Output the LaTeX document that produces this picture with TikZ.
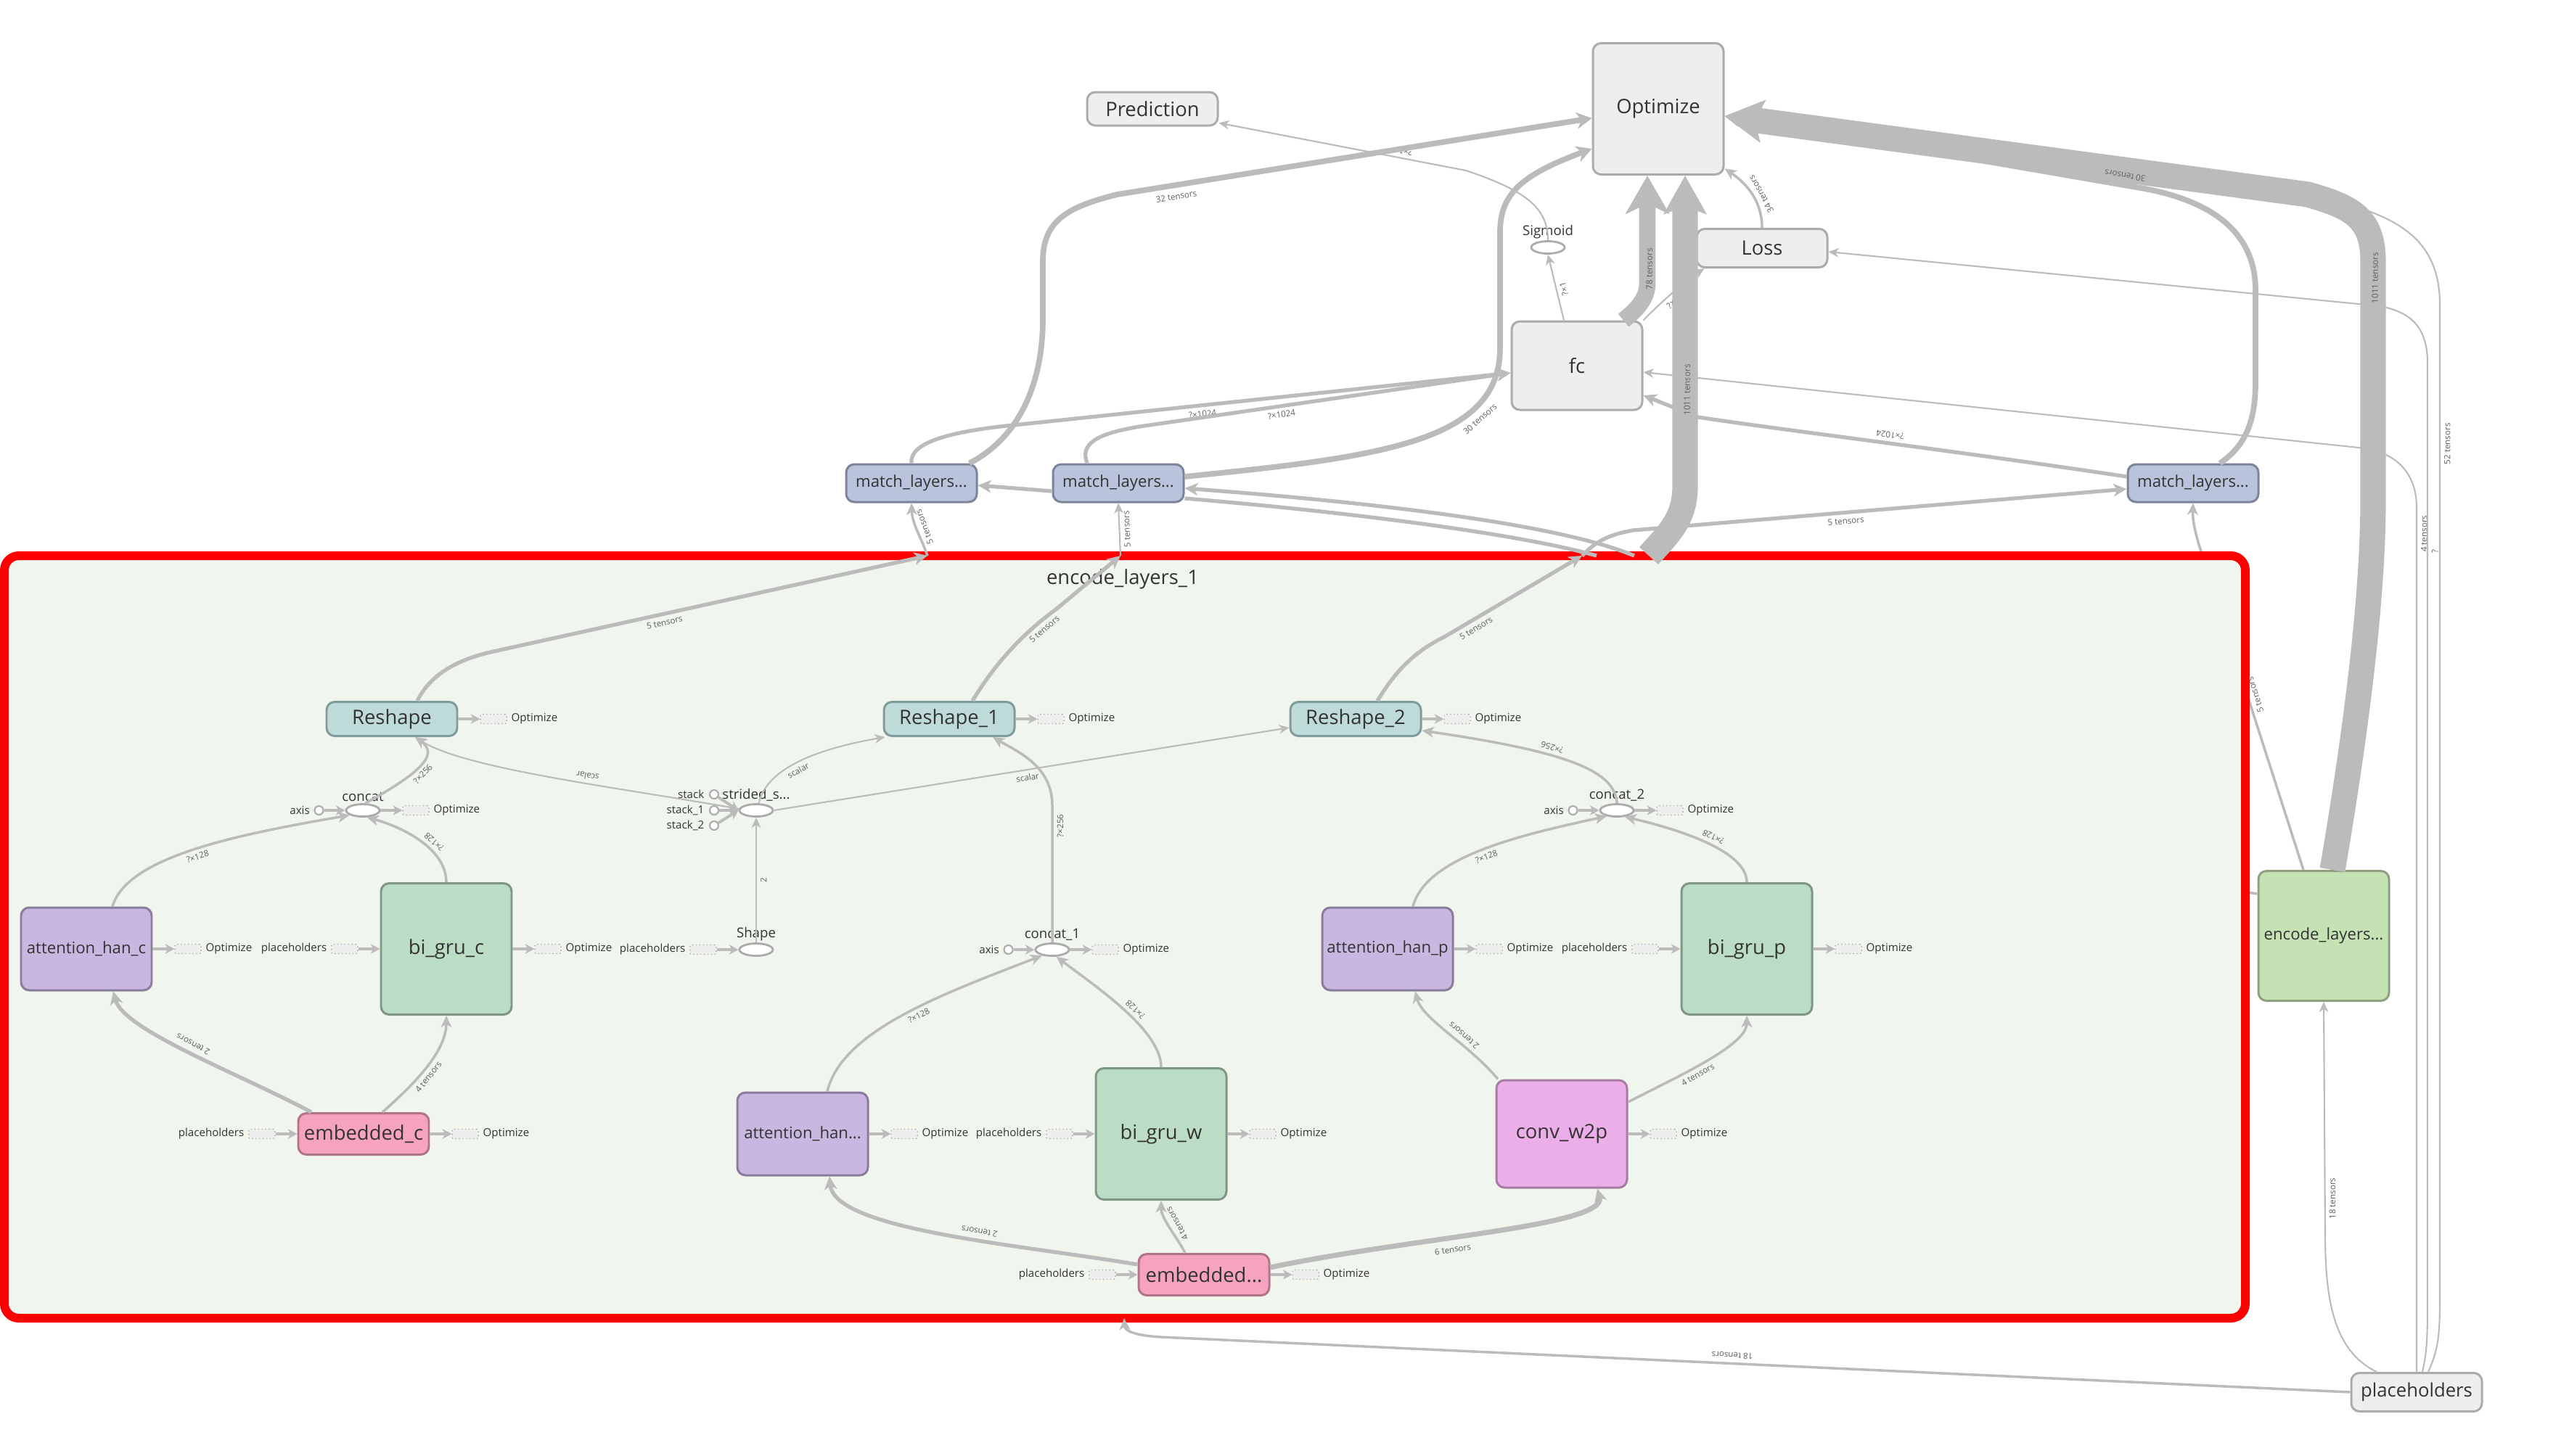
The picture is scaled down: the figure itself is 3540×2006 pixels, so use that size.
\documentclass[tikz,border=0pt]{standalone}
\usepackage{fontspec}
\setmainfont{Open Sans}
\usetikzlibrary{arrows.meta,positioning,shapes.geometric}

\definecolor{edgegrey}{HTML}{BBBBBB}
\definecolor{txtgrey}{HTML}{333333}
\definecolor{lblgrey}{HTML}{5E5E5E}
\definecolor{nodefill}{HTML}{EEEEEE}
\definecolor{nodeline}{HTML}{ABABAB}
\definecolor{groupfill}{HTML}{F0F5EE}
\definecolor{groupline}{HTML}{FF0000}
\definecolor{reshfill}{HTML}{BEDBDA}
\definecolor{reshline}{HTML}{7F9B9A}
\definecolor{matchfill}{HTML}{B9C3DC}
\definecolor{matchline}{HTML}{7D849A}
\definecolor{attnfill}{HTML}{C8B8E1}
\definecolor{attnline}{HTML}{8B7C9E}
\definecolor{grufill}{HTML}{BBDDC6}
\definecolor{gruline}{HTML}{7E9786}
\definecolor{embfill}{HTML}{F5A3BE}
\definecolor{embline}{HTML}{B07488}
\definecolor{convfill}{HTML}{EBAEE9}
\definecolor{convline}{HTML}{A67BA4}
\definecolor{encfill}{HTML}{C5E2B5}
\definecolor{encline}{HTML}{8EA07F}

\begin{document}
\begin{tikzpicture}[
    x=0.1mm, y=-0.1mm,
    every node/.style={text=txtgrey},
    box/.style={rectangle, rounded corners=3.2pt, line width=0.85pt, inner sep=0pt,
                minimum width=18mm, font=\fontsize{7.8}{9}\selectfont},
    plain/.style={box, draw=nodeline, fill=nodefill},
    matchbox/.style={box, draw=matchline, fill=matchfill, minimum height=5.2mm,
                     font=\fontsize{6.3}{7}\selectfont},
    reshbox/.style={box, draw=reshline, fill=reshfill, minimum height=4.7mm},
    attnbox/.style={box, draw=attnline, fill=attnfill, minimum height=11.4mm,
                    font=\fontsize{6.3}{7}\selectfont},
    grubox/.style={box, draw=gruline, fill=grufill, minimum height=18.1mm},
    embbox/.style={box, draw=embline, fill=embfill, minimum height=5.7mm},
    convbox/.style={box, draw=convline, fill=convfill, minimum height=14.8mm},
    encbox/.style={box, draw=encline, fill=encfill, minimum height=17.9mm,
                   font=\fontsize{6.3}{7}\selectfont},
    groupbox/.style={rectangle, rounded corners=2mm, draw=groupline, fill=groupfill,
                     line width=1.2mm, minimum width=308.8mm, minimum height=105.1mm},
    grouplbl/.style={font=\fontsize{7.8}{9}\selectfont},
    op/.style={ellipse, draw=nodeline, fill=white, line width=0.8pt,
               minimum width=4.6mm, minimum height=1.7mm, inner sep=0pt},
    oplbl/.style={font=\fontsize{5.3}{6}\selectfont, inner sep=0.5pt},
    port/.style={circle, draw=nodeline, fill=white, line width=0.6pt,
                 minimum size=1.2mm, inner sep=0pt},
    ghost/.style={rectangle, rounded corners=0.6pt, draw=nodeline, densely dotted,
                  fill=nodefill, line width=0.4pt, minimum width=3.6mm,
                  minimum height=1.3mm, inner sep=0pt},
    smalllbl/.style={font=\fontsize{4.3}{5}\selectfont, inner sep=0.3pt},
    elbl/.style={font=\fontsize{3.3}{4}\selectfont, text=lblgrey, inner sep=0.6pt,
                 sloped, allow upside down, below=0.8pt},
    thinedge/.style={draw=edgegrey, line width=0.6pt, line join=round,
                     -{Stealth[length=4pt, width=3.6pt, inset=1.2pt]}},
    normedge/.style={draw=edgegrey, line width=1pt, line join=round,
                     -{Stealth[length=4.6pt, width=4.2pt, inset=1.3pt]}},
    mededge/.style={draw=edgegrey, line width=1.5pt, line join=round,
                    -{Stealth[length=5.2pt, width=5pt, inset=1.5pt]}},
    thickedge/.style={draw=edgegrey, line width=2.2pt, line join=round,
                      -{Stealth[length=6pt, width=6.5pt, inset=1.8pt]}},
    bigedge/.style={draw=edgegrey, line width=6.5pt, line join=round,
                    -{Stealth[length=15pt, width=17pt, inset=4pt]}},
    hugeedge/.style={draw=edgegrey, line width=10pt, line join=round,
                     -{Stealth[length=15pt, width=16.5pt, inset=3pt]}},
    ctrledge/.style={draw=edgegrey, line width=1.1pt,
                     -{Stealth[length=3.6pt, width=3.8pt, inset=1pt]}},
]
\useasboundingbox (0,0) rectangle (3540,2006);

% top level nodes
\node[plain, minimum height=18.1mm] (opt) at (2285,150) {Optimize};
\node[plain, minimum height=4.6mm] (pred) at (1588,150) {Prediction};
\node[op] (sigm) at (2133,341) {};
\node[oplbl, above=0pt of sigm] (sigml) {Sigmoid};
\node[plain, minimum height=5.3mm] (loss) at (2428,342) {Loss};
\node[plain, minimum height=12.2mm] (fc) at (2173,504) {fc};
\node[matchbox] (ml1) at (1256,666) {match\_layers...};
\node[matchbox] (ml2) at (1541,666) {match\_layers...};
\node[matchbox] (ml3) at (3022,666) {match\_layers...};
\node[encbox] (enc2) at (3202,1290) {encode\_layers...};
\node[plain, minimum height=5.3mm, font=\fontsize{7.3}{8}\selectfont] (ph) at (3330,1919) {placeholders};

% edges running behind the group box
\coordinate (b7) at (3035,766);
\coordinate (stub) at (3070,1226);
\draw[normedge] ([xshift=-2.8mm]enc2.north) -- node[elbl, pos=0.55] {5 tensors} (b7)
    .. controls (3026,740) and (3021,718) .. (ml3.south);
\draw[normedge, -] ([yshift=5.8mm]enc2.west) -- (stub);

% group encode_layers_1
\node[groupbox] (grp) at (1550,1291.5) {};
\node[grouplbl] (grpl) at (1547,798) {encode\_layers\_1};

\node[reshbox] (rs) at (540,991) {Reshape};
\node[reshbox] (rs1) at (1308,991) {Reshape\_1};
\node[reshbox] (rs2) at (1868,991) {Reshape\_2};
\node[op] (cc) at (500,1117) {};
\node[oplbl, above=0pt of cc] (ccl) {concat};
\node[op] (cc1) at (1450,1309) {};
\node[oplbl, above=0pt of cc1] (cc1l) {concat\_1};
\node[op] (cc2) at (2228,1117) {};
\node[oplbl, above=0pt of cc2] (cc2l) {concat\_2};
\node[op] (ss) at (1042,1117) {};
\node[oplbl, above=0pt of ss] (ssl) {strided\_s...};
\node[op] (shp) at (1042,1309) {};
\node[oplbl, above=0pt of shp] (shpl) {Shape};
\node[attnbox] (ahc) at (119,1308) {attention\_han\_c};
\node[grubox] (bgc) at (615,1308) {bi\_gru\_c};
\node[embbox] (emc) at (501,1563) {embedded\_c};
\node[attnbox] (ahw) at (1106,1563) {attention\_han...};
\node[grubox] (bgw) at (1600,1563) {bi\_gru\_w};
\node[embbox] (emw) at (1659,1757) {embedded...};
\node[convbox] (cw) at (2152,1563) {conv\_w2p};
\node[attnbox] (ahp) at (1912,1308) {attention\_han\_p};
\node[grubox] (bgp) at (2407,1308) {bi\_gru\_p};

% ports
\node[port, left=2.9mm of cc] (ccax) {};
\node[smalllbl, left=0.4mm of ccax] (ccaxl) {axis};
\node[port, left=2.9mm of cc1] (cc1ax) {};
\node[smalllbl, left=0.4mm of cc1ax] (cc1axl) {axis};
\node[port, left=2.9mm of cc2] (cc2ax) {};
\node[smalllbl, left=0.4mm of cc2ax] (cc2axl) {axis};
\node[port] (st0) at (984,1095) {};
\node[smalllbl, left=0.5mm of st0] (st0l) {stack};
\node[port] (st1) at (984,1117) {};
\node[smalllbl, left=0.5mm of st1] (st1l) {stack\_1};
\node[port] (st2) at (984,1138) {};
\node[smalllbl, left=0.5mm of st2] (st2l) {stack\_2};
\draw[ctrledge] (ccax) -- (cc);
\draw[ctrledge] (cc1ax) -- (cc1);
\draw[ctrledge] (cc2ax) -- (cc2);
\draw[ctrledge] (st0) -- (ss.west);
\draw[ctrledge] (st1) -- (ss.west);
\draw[ctrledge] (st2) -- (ss.west);

% Optimize outputs
\node[ghost, right=3mm of rs] (rsg) {};
\node[smalllbl, right=0.4mm of rsg] (rsgl) {Optimize};
\node[ghost, right=3mm of rs1] (rs1g) {};
\node[smalllbl, right=0.4mm of rs1g] (rs1gl) {Optimize};
\node[ghost, right=3mm of rs2] (rs2g) {};
\node[smalllbl, right=0.4mm of rs2g] (rs2gl) {Optimize};
\node[ghost, right=3mm of cc] (ccg) {};
\node[smalllbl, right=0.4mm of ccg] (ccgl) {Optimize};
\node[ghost, right=3mm of cc1] (cc1g) {};
\node[smalllbl, right=0.4mm of cc1g] (cc1gl) {Optimize};
\node[ghost, right=3mm of cc2] (cc2g) {};
\node[smalllbl, right=0.4mm of cc2g] (cc2gl) {Optimize};
\node[ghost, right=3mm of ahc] (ahcg) {};
\node[smalllbl, right=0.4mm of ahcg] (ahcgl) {Optimize};
\node[ghost, right=3mm of bgc] (bgcg) {};
\node[smalllbl, right=0.4mm of bgcg] (bgcgl) {Optimize};
\node[ghost, right=3mm of emc] (emcg) {};
\node[smalllbl, right=0.4mm of emcg] (emcgl) {Optimize};
\node[ghost, right=3mm of ahw] (ahwg) {};
\node[smalllbl, right=0.4mm of ahwg] (ahwgl) {Optimize};
\node[ghost, right=3mm of bgw] (bgwg) {};
\node[smalllbl, right=0.4mm of bgwg] (bgwgl) {Optimize};
\node[ghost, right=3mm of emw] (emwg) {};
\node[smalllbl, right=0.4mm of emwg] (emwgl) {Optimize};
\node[ghost, right=3mm of cw] (cwg) {};
\node[smalllbl, right=0.4mm of cwg] (cwgl) {Optimize};
\node[ghost, right=3mm of ahp] (ahpg) {};
\node[smalllbl, right=0.4mm of ahpg] (ahpgl) {Optimize};
\node[ghost, right=3mm of bgp] (bgpg) {};
\node[smalllbl, right=0.4mm of bgpg] (bgpgl) {Optimize};
\draw[ctrledge] (rs) -- (rsg);
\draw[ctrledge] (rs1) -- (rs1g);
\draw[ctrledge] (rs2) -- (rs2g);
\draw[ctrledge] (cc) -- (ccg);
\draw[ctrledge] (cc1) -- (cc1g);
\draw[ctrledge] (cc2) -- (cc2g);
\draw[ctrledge] (ahc) -- (ahcg);
\draw[ctrledge] (bgc) -- (bgcg);
\draw[ctrledge] (emc) -- (emcg);
\draw[ctrledge] (ahw) -- (ahwg);
\draw[ctrledge] (bgw) -- (bgwg);
\draw[ctrledge] (emw) -- (emwg);
\draw[ctrledge] (cw) -- (cwg);
\draw[ctrledge] (ahp) -- (ahpg);
\draw[ctrledge] (bgp) -- (bgpg);

% placeholders inputs
\node[ghost, left=3mm of bgc] (bgcp) {};
\node[smalllbl, left=0.4mm of bgcp] (bgcpl) {placeholders};
\node[ghost, left=3mm of shp] (shpp) {};
\node[smalllbl, left=0.4mm of shpp] (shppl) {placeholders};
\node[ghost, left=3mm of emc] (emcp) {};
\node[smalllbl, left=0.4mm of emcp] (emcpl) {placeholders};
\node[ghost, left=3mm of bgw] (bgwp) {};
\node[smalllbl, left=0.4mm of bgwp] (bgwpl) {placeholders};
\node[ghost, left=3mm of emw] (emwp) {};
\node[smalllbl, left=0.4mm of emwp] (emwpl) {placeholders};
\node[ghost, left=3mm of bgp] (bgpp) {};
\node[smalllbl, left=0.4mm of bgpp] (bgppl) {placeholders};
\draw[ctrledge] (bgcp) -- (bgc);
\draw[ctrledge] (shpp) -- (shp);
\draw[ctrledge] (emcp) -- (emc);
\draw[ctrledge] (bgwp) -- (bgw);
\draw[ctrledge] (emwp) -- (emw);
\draw[ctrledge] (bgpp) -- (bgp);

% edges inside the group
\draw[normedge] (cc.70) .. controls (580,1065) and (605,1040) .. node[elbl, pos=0.45] {?×256} ([xshift=3.2mm]rs.south);
\draw[thinedge] (ss.175) .. controls (850,1085) and (640,1060) .. node[elbl, pos=0.4] {scalar} ([xshift=3.2mm]rs.south);
\draw[thinedge] (ss.70) .. controls (1055,1065) and (1110,1035) .. node[elbl, pos=0.5] {scalar} ([xshift=0.3mm]rs1.south west);
\draw[thinedge] (ss.east) -- node[elbl, pos=0.49] {scalar} ([yshift=-1.2mm]rs2.west);
\draw[normedge] (cc1.north) -- node[elbl, pos=0.85] {?×256} (1450,1110) .. controls (1450,1055) and (1400,1035) .. ([xshift=6mm]rs1.south);
\draw[normedge] (cc2.north) .. controls (2226,1060) and (2150,1035) .. node[elbl, pos=0.6] {?×256} ([yshift=-1.6mm]rs2.east);
\draw[thinedge] (shp) -- node[elbl, pos=0.5] {2} (ss);
\draw[normedge] ([xshift=3.6mm]ahc.north) .. controls (175,1180) and (330,1150) .. node[elbl, pos=0.5] {?×128} (cc.200);
\draw[normedge] (bgc.north) .. controls (615,1170) and (555,1140) .. node[elbl, pos=0.4] {?×128} (cc.-60);
\draw[mededge] ([xshift=-7.2mm]emc.north) .. controls (330,1480) and (170,1420) .. node[elbl, pos=0.5] {2 tensors} ([xshift=3.7mm]ahc.south);
\draw[normedge] ([xshift=2.6mm]emc.north) .. controls (570,1495) and (615,1450) .. node[elbl, pos=0.45] {4 tensors} (bgc.south);
\draw[normedge] ([xshift=3.4mm]ahw.north) .. controls (1160,1420) and (1300,1370) .. node[elbl, pos=0.55] {?×128} (cc1.210);
\draw[normedge] (bgw.north) .. controls (1600,1420) and (1510,1360) .. node[elbl, pos=0.45] {?×128} (cc1.-60);
\draw[mededge] ([yshift=1.4mm]emw.west) .. controls (1400,1715) and (1150,1695) .. node[elbl, pos=0.4] {2 tensors} ([xshift=3.7mm]ahw.south);
\draw[normedge] ([xshift=-2.6mm]emw.north) .. controls (1622,1705) and (1600,1680) .. node[elbl, pos=0.5] {4 tensors} (bgw.south);
\draw[mededge, line width=2pt] ([yshift=1mm]emw.east) .. controls (1950,1705) and (2215,1690) .. node[elbl, pos=0.4, below=2pt] {6 tensors} ([xshift=4.9mm]cw.south);
\draw[normedge] ([xshift=-8.8mm]cw.north) .. controls (2025,1440) and (1960,1405) .. node[elbl, pos=0.4] {2 tensors} ([xshift=3.8mm]ahp.south);
\draw[normedge] ([yshift=4.4mm]cw.east) .. controls (2320,1480) and (2407,1440) .. node[elbl, pos=0.4] {4 tensors} (bgp.south);
\draw[normedge] ([xshift=3.5mm]ahp.north) .. controls (1965,1180) and (2100,1150) .. node[elbl, pos=0.5] {?×128} (cc2.210);
\draw[normedge] (bgp.north) .. controls (2407,1170) and (2300,1140) .. node[elbl, pos=0.45] {?×128} (cc2.-40);

% crossing the group border
\coordinate (b1) at (1278,766);
\coordinate (b2) at (1544,766);
\coordinate (b3) at (2180,766);
\coordinate (b4) at (2272,766);
\coordinate (b5) at (2252,766);
\coordinate (b6) at (2200,766);
\coordinate (b8) at (1549,1817);
\draw[mededge] ([xshift=3.5mm]rs.north) .. controls (588,940) and (615,912) .. (680,898) -- node[elbl, pos=0.39] {5 tensors} (b1);
\draw[mededge] ([xshift=3.2mm]rs1.north) .. controls (1365,925) and (1400,880) .. node[elbl, pos=0.85] {5 tensors} (1455,840) -- (b2);
\draw[mededge] ([xshift=3mm]rs2.north) .. controls (1920,930) and (1945,900) .. (1990,878) -- node[elbl, pos=0.2] {5 tensors} (b3);
\draw[normedge] (b1) .. controls (1268,738) and (1257,722) .. node[elbl, pos=0.5] {5 tensors} (ml1.south);
\draw[thinedge] (b2) -- node[elbl, pos=0.5] {5 tensors} (ml2.south);
\draw[mededge] (b3) .. controls (2198,748) and (2212,738) .. (2250,731) -- node[elbl, pos=0.43] {5 tensors} ([yshift=-0.8mm]ml3.west);
\draw[normedge] (ph.west) -- node[elbl, pos=0.52] {18 tensors} (1600,1843) .. controls (1565,1841) and (1550,1835) .. (b8);

% top level edges
\draw[thinedge] (sigm.north) .. controls (2133,285) and (2100,262) .. (2020,235) -- node[elbl, pos=0.25] {?×1} (pred.-12);
\draw[thickedge] (ml1.19) .. controls (1410,600) and (1437,520) .. (1437,440) -- (1437,360) .. controls (1437,305) and (1470,285) .. (1540,268) -- node[elbl, pos=0.12, below=1.5pt] {32 tensors} (opt.-172);
\draw[mededge] (ml1.north) .. controls (1253,612) and (1300,595) .. (1406,585) -- node[elbl, pos=0.37] {?×1024} ([yshift=-1mm]fc.west);
\draw[mededge] ([xshift=-4.3mm]ml2.north) .. controls (1488,612) and (1510,598) .. (1570,588) -- node[elbl, pos=0.38] {?×1024} ([yshift=-1mm]fc.west);
\draw[thickedge] ([yshift=0.9mm]ml2.east) .. controls (1900,630) and (2067,610) .. node[elbl, pos=0.72, below=1.5pt] {30 tensors} (2067,480) -- (2067,320) .. controls (2067,265) and (2100,240) .. (opt.211);
\draw[mededge] ([yshift=-1.1mm]ml2.west) -- ([yshift=-0.3mm]ml1.east);
\draw[mededge] (b5) .. controls (2160,728) and (1950,697) .. ([yshift=-0.7mm]ml2.east);
\draw[mededge, -] ([yshift=-2.1mm]ml2.east) .. controls (1850,705) and (2090,735) .. (b6);
\draw[thinedge] ([xshift=-1.8mm]fc.north) -- node[elbl, pos=0.45] {?×1} (sigm.south);
\draw[thinedge] (fc.north east) .. controls (2290,415) and (2325,385) .. node[elbl, pos=0.4] {?×1} ([xshift=1.2mm]loss.south west);
\draw[bigedge] ([xshift=6.4mm]fc.north) .. controls (2258,425) and (2270,410) .. (2270,390) -- node[elbl, anchor=center, pos=0.13] {78 tensors} ([xshift=-1.5mm]opt.south);
\draw[normedge] (loss.north) .. controls (2428,280) and (2410,255) .. node[elbl, pos=0.45] {34 tensors} (opt.-42);
\draw[mededge] ([yshift=0.9mm]ml3.west) .. controls (2700,622) and (2450,592) .. node[elbl, pos=0.48] {?×1024} (2340,575) -- ([yshift=-4.1mm]fc.east);
\draw[hugeedge] (b4) .. controls (2300,735) and (2322,715) .. (2322,670) -- node[elbl, anchor=center, pos=0.31] {1011 tensors} ([xshift=3.7mm]opt.south);
\draw[thinedge] (ph.north) -- node[elbl, pos=0.97] {4 tensors} (3330,700) .. controls (3330,650) and (3300,622) .. (3250,617) -- ([yshift=-0.9mm]fc.east);
\draw[thinedge] ([xshift=0.8mm]ph.north) .. controls (3344,1865) and (3345,1845) .. (3345,1800) -- node[elbl, pos=0.8] {?} (3345,500) .. controls (3345,440) and (3310,422) .. (3250,419) -- ([yshift=-0.5mm]loss.east);
\draw[thinedge] ([xshift=1.6mm]ph.north) .. controls (3360,1860) and (3362,1840) .. (3362,1790) -- node[elbl, pos=0.86] {52 tensors} (3362,420) .. controls (3362,320) and (3290,295) .. (3200,272) -- ([yshift=-1mm]opt.east);
\draw[thinedge] ([xshift=-5.5mm]ph.north) .. controls (3215,1862) and (3204,1790) .. (3204,1700) -- node[elbl, pos=0.15] {18 tensors} (enc2.south);
\draw[hugeedge] ([xshift=1.2mm]enc2.north) .. controls (3248,1000) and (3270,820) .. (3270,690) -- node[elbl, anchor=center, pos=0.93] {1011 tensors} (3270,360) .. controls (3270,300) and (3240,285) .. (3180,268) -- ([yshift=-1mm]opt.east);
\draw[thickedge] ([xshift=3.7mm]ml3.north) .. controls (3098,612) and (3108,575) .. (3108,525) -- (3108,400) .. controls (3108,315) and (3040,276) .. (2955,260) -- node[elbl, pos=0.05] {30 tensors} ([yshift=-1mm]opt.east);
\end{tikzpicture}
\end{document}
